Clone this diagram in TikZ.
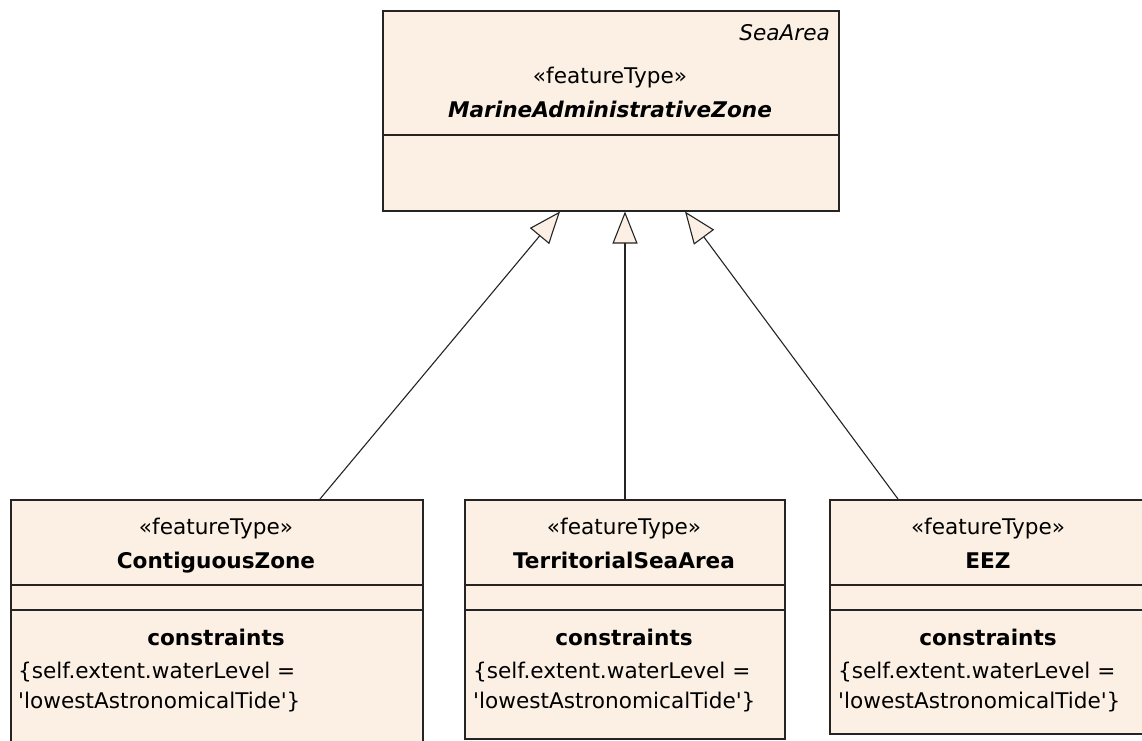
\documentclass[tikz,border=0pt]{standalone}
\usepackage{fontspec}
\setmainfont{DejaVu Sans}
% a copy of the font without TeX quote mapping, for straight quotes
\newfontfamily\plainquote{DejaVu Sans}
\usetikzlibrary{arrows.meta,calc}
\definecolor{classfill}{RGB}{251,240,227}
\definecolor{classline}{RGB}{36,36,36}
\newcommand{\sq}{{\plainquote\char"27}}
\tikzset{
  classbox/.style={draw=classline, fill=classfill, line width=2pt,
    rectangle, inner sep=0pt, anchor=north west},
  compline/.style={draw=classline, line width=2pt},
  txt/.style={anchor=base, inner sep=0pt, text=black,
    font=\fontsize{21.6}{26}\selectfont},
  lefttxt/.style={txt, anchor=base west},
  righttxt/.style={txt, anchor=base east},
  gen/.style={draw=classline, line width=1.1pt, line join=miter,
    -{Triangle[length=32pt,width=25pt,fill=classfill]}},
}
\begin{document}
\begin{tikzpicture}[x=1pt,y=-1pt]
\useasboundingbox (0,0) rectangle (1142,740);
\fill[white] (0,0) rectangle (1142,740);
\begin{scope}
\clip (0,0) rectangle (1142,740);

% abstract parent class
\node[classbox, minimum width=456pt, minimum height=200pt] (maz) at (382,9.5) {};
\draw[compline] ($(maz.north west)+(0,125.5)$) -- ($(maz.north east)+(0,125.5)$);
\node[righttxt, font=\fontsize{21.6}{26}\selectfont\itshape] (mazpkg) at (830,40) {SeaArea};
\node[txt] (mazst) at (610,83) {«featureType»};
\node[txt, font=\fontsize{21.6}{26}\selectfont\bfseries\itshape] (mazname) at (610,117) {MarineAdministrativeZone};

% subclasses
\node[classbox, minimum width=412pt, minimum height=270pt] (cz) at (10,499) {};
\node[classbox, minimum width=320pt, minimum height=239pt] (tsa) at (464,499) {};
\node[classbox, minimum width=319pt, minimum height=234pt] (eez) at (829,499) {};

\foreach \b in {cz,tsa,eez}{
  \draw[compline] ($(\b.north west)+(0,86)$) -- ($(\b.north east)+(0,86)$);
  \draw[compline] ($(\b.north west)+(0,111)$) -- ($(\b.north east)+(0,111)$);
}

% ContiguousZone
\node[txt] (czst) at (216,534) {«featureType»};
\node[txt, font=\fontsize{21.6}{26}\selectfont\bfseries] (czname) at (216,568) {ContiguousZone};
\node[txt, font=\fontsize{21.6}{26}\selectfont\bfseries] (czch) at (216,645) {constraints};
\node[lefttxt] (czc1) at (18,678) {\{self.extent.waterLevel =};
\node[lefttxt] (czc2) at (18,708) {\sq lowestAstronomicalTide\sq\}};

% TerritorialSeaArea
\node[txt] (tsast) at (624,534) {«featureType»};
\node[txt, font=\fontsize{21.6}{26}\selectfont\bfseries] (tsaname) at (624,568) {TerritorialSeaArea};
\node[txt, font=\fontsize{21.6}{26}\selectfont\bfseries] (tsach) at (624,645) {constraints};
\node[lefttxt] (tsac1) at (473,678) {\{self.extent.waterLevel =};
\node[lefttxt] (tsac2) at (473,708) {\sq lowestAstronomicalTide\sq\}};

% EEZ
\node[txt] (eezst) at (988,534) {«featureType»};
\node[txt, font=\fontsize{21.6}{26}\selectfont\bfseries] (eezname) at (988,568) {EEZ};
\node[txt, font=\fontsize{21.6}{26}\selectfont\bfseries] (eezch) at (988,645) {constraints};
\node[lefttxt] (eezc1) at (838,678) {\{self.extent.waterLevel =};
\node[lefttxt] (eezc2) at (838,708) {\sq lowestAstronomicalTide\sq\}};

% generalizations
\draw[gen] ($(cz.north west)+(310,0)$) -- ($(maz.south west)+(178,0)$);
\draw[gen] ($(tsa.north west)+(161,0)$) -- ($(maz.south west)+(243,0)$);
\draw[gen] ($(eez.north west)+(69,0)$) -- ($(maz.south west)+(303,0)$);
\end{scope}
\end{tikzpicture}
\end{document}
